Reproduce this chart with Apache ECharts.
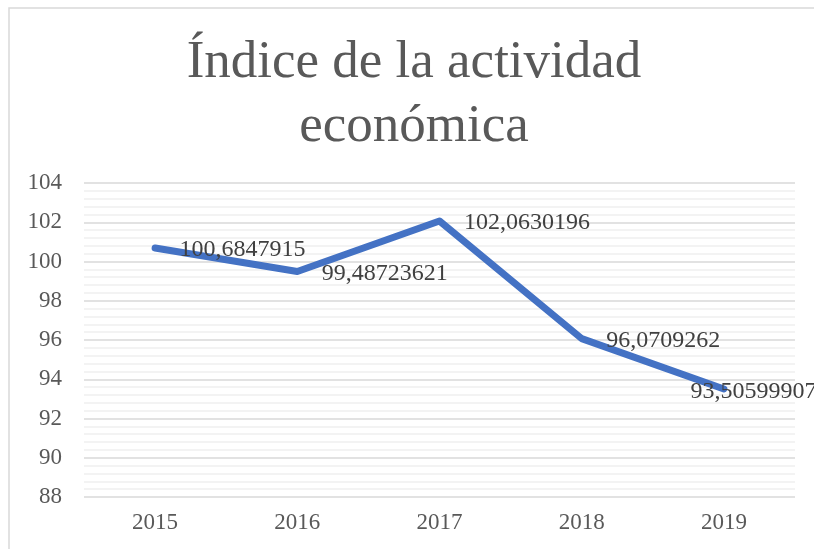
<!DOCTYPE html>
<html>
<head>
<meta charset="utf-8">
<script src="https://cdn.jsdelivr.net/npm/echarts@6/dist/echarts.min.js"></script>
<style>
  html, body { margin: 0; padding: 0; background: #fff; }
  #chart { width: 814px; height: 549px; }
</style>
</head>
<body>
<div id="chart"></div>
<script>
// años del eje x
const years = ["2015", "2016", "2017", "2018", "2019"];
// índice de la actividad económica
const indice = [100.6847915, 99.48723621, 102.0630196, 96.0709262, 93.50599907];
// etiquetas de datos tal como aparecen (coma decimal)
const etiquetas = ["100,6847915", "99,48723621", "102,0630196", "96,0709262", "93,50599907"];

const chart = echarts.init(document.getElementById("chart"));
const serif = "'Liberation Serif', 'DejaVu Serif', serif";

chart.setOption({
  animation: false,
  backgroundColor: "#fff",
  graphic: [
    {
      type: "rect",
      shape: { x: 9, y: 8, width: 830, height: 570 },
      style: { fill: "none", stroke: "#d9d9d9", lineWidth: 1.5 },
      silent: true
    }
  ],
  title: {
    text: "Índice de la actividad\neconómica",
    left: 409,
    top: 26,
    textAlign: "center",
    textStyle: {
      fontFamily: serif,
      fontWeight: "normal",
      fontSize: 53,
      lineHeight: 64,
      color: "#595959"
    }
  },
  grid: { left: 84, right: 19, top: 183, bottom: 52 },
  xAxis: {
    type: "category",
    data: years,
    boundaryGap: true,
    axisLine: { show: false },
    axisTick: { show: false },
    axisLabel: { fontFamily: serif, fontSize: 23, color: "#595959", margin: 14 }
  },
  yAxis: {
    type: "value",
    min: 88,
    max: 104,
    interval: 2,
    axisLine: { show: false },
    axisTick: { show: false },
    axisLabel: { fontFamily: serif, fontSize: 23, color: "#595959", margin: 22 },
    splitLine: { lineStyle: { color: "#d9d9d9", width: 1.5 } },
    minorTick: { show: false, splitNumber: 5 },
    minorSplitLine: { show: true, lineStyle: { color: "#efefef", width: 1.5 } }
  },
  series: [
    {
      type: "line",
      data: indice.map((v, i) => ({
        value: v,
        label: i === 4 ? { offset: [-58, 3] } : { offset: [0, 2] }
      })),
      symbol: "circle",
      symbolSize: 1,
      showSymbol: true,
      itemStyle: { color: "#4472C4", opacity: 0 },
      lineStyle: { color: "#4472C4", width: 7, cap: "round", join: "round" },
      label: {
        show: true,
        position: "right",
        distance: 24,
        fontFamily: serif,
        fontSize: 24,
        color: "#404040",
        opacity: 1,
        formatter: p => etiquetas[p.dataIndex]
      }
    }
  ]
});
</script>
</body>
</html>
